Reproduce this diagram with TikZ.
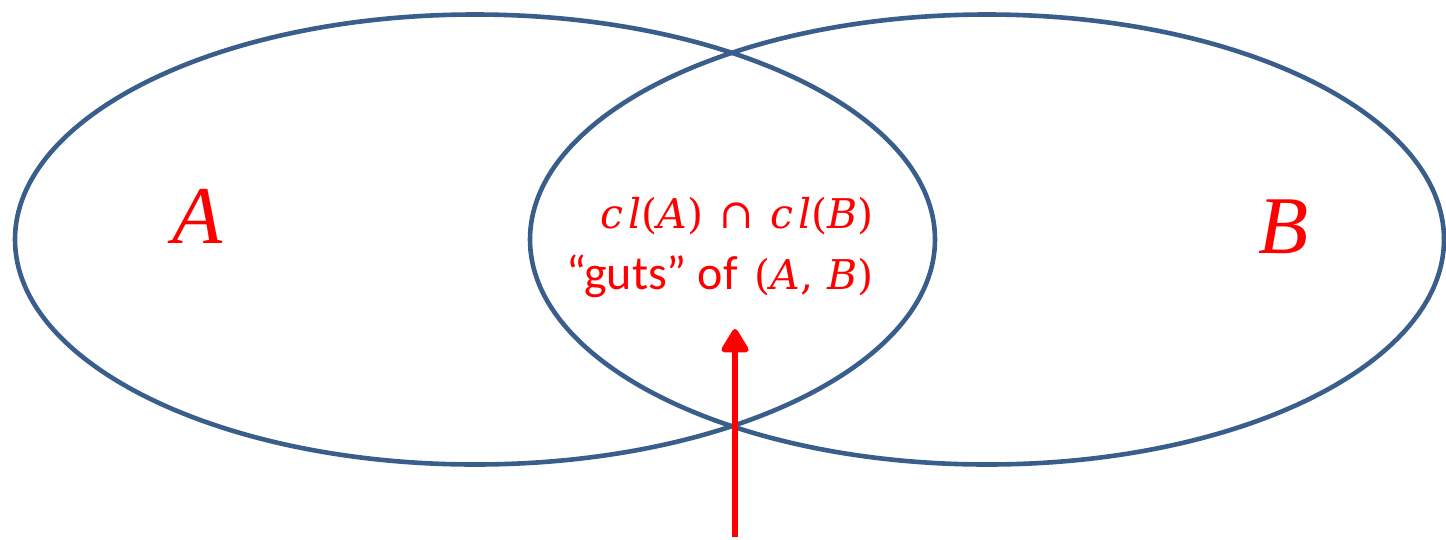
\documentclass[tikz,border=0pt]{standalone}
\usepackage{fontspec}
\setmainfont{Carlito}
\newfontfamily\mfont{Liberation Serif}
\newfontfamily\nfont{DejaVu Serif}[LetterSpace=12]
\usetikzlibrary{arrows.meta}
\definecolor{setblue}{HTML}{3A5E8C}
\definecolor{labred}{HTML}{FF0000}
\newcommand{\myvar}[1]{{\mfont\itshape #1}}
\newcommand{\smvar}[1]{{\nfont\itshape #1}}
\newcommand{\smpun}[1]{{\nfont #1}}
\tikzset{
  setline/.style={draw=setblue, line width=4.6pt},
  biglabel/.style={text=labred, inner sep=0pt, anchor=base, font=\fontsize{82}{90}\selectfont},
  mathlabel/.style={text=labred, inner sep=0pt, anchor=base, font=\fontsize{41}{46}\selectfont},
  midlabel/.style={text=labred, inner sep=0pt, anchor=base, font=\fontsize{48}{54}\selectfont},
  pointer/.style={draw=labred, line width=5.5pt, -{Triangle[round, length=26pt, width=30pt]}}
}
\begin{document}
\begin{tikzpicture}[x=1pt, y=-1pt]
\useasboundingbox (0,0) rectangle (1446,539);
\draw[setline] (475,239.5) ellipse [x radius=460pt, y radius=225pt];
\draw[setline] (987,239.5) ellipse [x radius=457pt, y radius=225pt];
\node[biglabel] (A) at (198,243) {\myvar{A}};
\node[biglabel] (B) at (1284,253) {\myvar{B}};
\node[mathlabel] (cl) at (737,228) {\smvar{cl}\smpun{(}\smvar{A}\smpun{)}\hspace{0.4em}\smpun{∩}\hspace{0.4em}\smvar{cl}\smpun{(}\smvar{B}\smpun{)}};
\node[midlabel] (guts) at (720,289) {“guts” of\hspace{0.35em}{\fontsize{41}{46}\selectfont\smpun{(}\smvar{A}\smpun{,}\hspace{0.35em}\smvar{B}\smpun{)}}};
\coordinate (tail) at (735,537);
\coordinate (tip) at (735,329);
\draw[pointer] (tail) -- (tip);
\end{tikzpicture}
\end{document}
